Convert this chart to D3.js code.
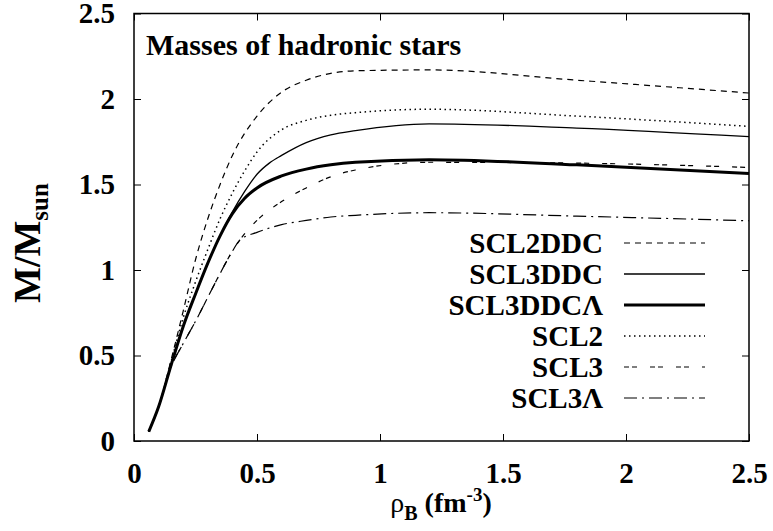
<!DOCTYPE html>
<html>
<head>
<meta charset="utf-8">
<script src="https://cdn.jsdelivr.net/npm/d3@7"></script>
<style>
  body { margin: 0; background: #fff; }
  svg text { font-family: "Liberation Serif", "Tinos", "Nimbus Roman", "Times New Roman", "DejaVu Serif", serif; }
  .tick text { font-weight: bold; font-size: 29px; fill: #000; }
  .tick line { stroke: #000; stroke-width: 1; }
</style>
</head>
<body>
<svg id="chart" width="773" height="531"></svg>
<script>
// tick values
const xTicks = [0, 0.5, 1, 1.5, 2, 2.5];
const yTicks = [0, 0.5, 1, 1.5, 2, 2.5];

// series (rho_B in fm^-3, M/Msun)
const scl2ddcX = [0.06, 0.1, 0.15, 0.2, 0.25, 0.3, 0.35, 0.4, 0.5, 0.6, 0.7, 0.8, 0.9, 1.2, 1.8, 2.5];
const scl2ddcY = [0.055, 0.2, 0.47, 0.76, 1.06, 1.3, 1.5, 1.67, 1.9, 2.04, 2.11, 2.15, 2.165, 2.17, 2.11, 2.035];

const scl3ddcX = [0.06, 0.1, 0.15, 0.2, 0.25, 0.3, 0.35, 0.4, 0.45, 0.5, 0.55, 0.6, 0.7, 0.8, 0.9, 1.2, 1.8, 2.5];
const scl3ddcY = [0.055, 0.2, 0.44, 0.67, 0.86, 1.04, 1.2, 1.34, 1.46, 1.56, 1.625, 1.67, 1.745, 1.79, 1.815, 1.855, 1.83, 1.78];

const scl3ddcLX = [0.06, 0.1, 0.15, 0.2, 0.25, 0.3, 0.35, 0.4, 0.45, 0.5, 0.6, 0.7, 0.8, 0.9, 1.2, 1.8, 2.5];
const scl3ddcLY = [0.055, 0.2, 0.44, 0.67, 0.86, 1.04, 1.2, 1.33, 1.42, 1.48, 1.55, 1.59, 1.615, 1.63, 1.645, 1.615, 1.565];

const scl2X = [0.06, 0.1, 0.15, 0.2, 0.25, 0.3, 0.35, 0.4, 0.45, 0.5, 0.6, 0.7, 0.8, 0.9, 1.2, 1.8, 2.5];
const scl2Y = [0.055, 0.2, 0.46, 0.72, 0.93, 1.12, 1.3, 1.45, 1.58, 1.69, 1.82, 1.875, 1.905, 1.92, 1.94, 1.9, 1.84];

const scl3X = [0.06, 0.1, 0.15, 0.2, 0.25, 0.3, 0.35, 0.4, 0.43, 0.5, 0.6, 0.7, 0.8, 0.9, 1.2, 1.8, 2.5];
const scl3Y = [0.055, 0.2, 0.43, 0.57, 0.7, 0.84, 0.98, 1.11, 1.175, 1.29, 1.4, 1.48, 1.545, 1.585, 1.63, 1.625, 1.6];

const scl3LX = [0.06, 0.1, 0.15, 0.2, 0.25, 0.3, 0.35, 0.4, 0.43, 0.5, 0.6, 0.7, 0.8, 0.9, 1.2, 1.8, 2.5];
const scl3LY = [0.055, 0.2, 0.43, 0.57, 0.7, 0.84, 0.98, 1.11, 1.175, 1.22, 1.265, 1.29, 1.31, 1.32, 1.335, 1.315, 1.288];

const seriesNames = ["SCL2DDC", "SCL3DDC", "SCL3DDC\u039B", "SCL2", "SCL3", "SCL3\u039B"];

const svg = d3.select("#chart");
const plotL = 134, plotR = 749, plotT = 13.5, plotB = 441;

const x = d3.scaleLinear().domain([0, 2.5]).range([plotL, plotR]);
const y = d3.scaleLinear().domain([0, 2.5]).range([plotB, plotT]);

// line styles
const styles = [
  { w: 1.2, dash: "6,5" },
  { w: 1.3, dash: null },
  { w: 3, dash: null },
  { w: 1.5, dash: "1.5,3.5" },
  { w: 1.2, dash: "5,3,5,13" },
  { w: 1.2, dash: "13,5,2,5" }
];

const series = [
  [scl2ddcX, scl2ddcY],
  [scl3ddcX, scl3ddcY],
  [scl3ddcLX, scl3ddcLY],
  [scl2X, scl2Y],
  [scl3X, scl3Y],
  [scl3LX, scl3LY]
].map((s, i) => ({ name: seriesNames[i], pts: s[0].map((v, j) => [v, s[1][j]]), style: styles[i] }));

// axes, ticks pointing inward on all four sides
const gx = svg.append("g").attr("transform", `translate(0,${plotB})`)
  .call(d3.axisBottom(x).tickValues(xTicks).tickSize(-7).tickSizeOuter(0).tickPadding(21).tickFormat(d3.format("")));
const gy = svg.append("g").attr("transform", `translate(${plotL},0)`)
  .call(d3.axisLeft(y).tickValues(yTicks).tickSize(-7).tickSizeOuter(0).tickPadding(19).tickFormat(d3.format("")));
const gt = svg.append("g").attr("transform", `translate(0,${plotT})`)
  .call(d3.axisTop(x).tickValues(xTicks).tickSize(-7).tickSizeOuter(0).tickFormat(""));
const gr = svg.append("g").attr("transform", `translate(${plotR},0)`)
  .call(d3.axisRight(y).tickValues(yTicks).tickSize(-7).tickSizeOuter(0).tickFormat(""));
[gx, gy, gt, gr].forEach(g => g.select(".domain").remove());
[gx, gy, gt, gr].forEach(g => g.attr("font-family", null).attr("font-size", null));

// frame
svg.append("rect")
  .attr("x", plotL).attr("y", plotT)
  .attr("width", plotR - plotL).attr("height", plotB - plotT)
  .attr("fill", "none").attr("stroke", "#000").attr("stroke-width", 1.5);

// curves
const line = d3.line().x(d => x(d[0])).y(d => y(d[1])).curve(d3.curveMonotoneX);
svg.append("g").selectAll("path")
  .data(series)
  .join("path")
  .attr("d", d => line(d.pts))
  .attr("fill", "none")
  .attr("stroke", "#000")
  .attr("stroke-width", d => d.style.w)
  .attr("stroke-dasharray", d => d.style.dash);

// title
svg.append("text")
  .attr("x", 146).attr("y", 55)
  .attr("font-size", 30).attr("font-weight", "bold")
  .text("Masses of hadronic stars");

// legend
const legend = svg.append("g");
const rows = legend.selectAll("g").data(series).join("g")
  .attr("transform", (d, i) => `translate(0,${243 + i * 31})`);
rows.append("text")
  .attr("x", 603).attr("y", 10)
  .attr("text-anchor", "end")
  .attr("font-size", 29).attr("font-weight", "bold")
  .text(d => d.name);
rows.append("line")
  .attr("x1", 624).attr("x2", 705)
  .attr("stroke", "#000")
  .attr("stroke-width", d => d.style.w)
  .attr("stroke-dasharray", d => d.style.dash);

// x-axis title
const xt = svg.append("text")
  .attr("x", 441).attr("y", 512)
  .attr("text-anchor", "middle")
  .attr("font-size", 28).attr("font-weight", "bold");
xt.append("tspan").attr("font-weight", "normal").text("\u03C1");
xt.append("tspan").attr("font-size", 20).attr("dy", 8).text("B");
xt.append("tspan").attr("dy", -8).text(" (fm");
xt.append("tspan").attr("font-size", 19).attr("dy", -11).text("-3");
xt.append("tspan").attr("dy", 11).text(")");

// y-axis title
const yt = svg.append("text")
  .attr("transform", "translate(40,243) rotate(-90)")
  .attr("text-anchor", "middle")
  .attr("font-size", 38).attr("font-weight", "bold");
yt.append("tspan").text("M/M");
yt.append("tspan").attr("font-size", 25).attr("dy", 8).text("sun");
</script>
</body>
</html>
